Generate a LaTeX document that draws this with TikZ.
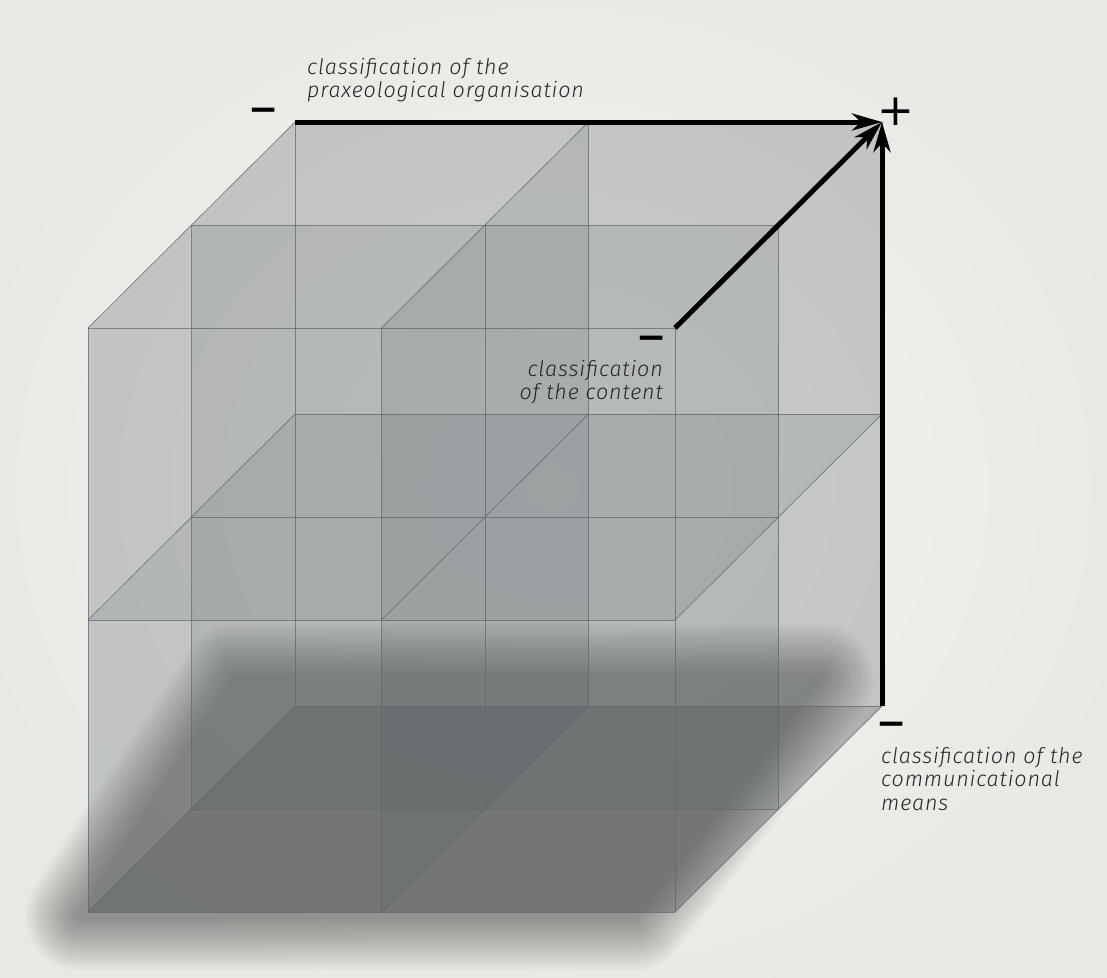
\documentclass[tikz,border=0pt]{standalone}
\usepackage{fontspec}
\setmainfont{Fira Sans}
\IfFontExistsTF{Fira Sans Light Italic}
  {\newfontfamily\lblfont{Fira Sans Light Italic}[LetterSpace=4]}
  {\newfontfamily\lblfont{Fira Sans Italic}[LetterSpace=4]}
\newfontfamily\symfont{DejaVu Sans}
\usetikzlibrary{arrows.meta}
\definecolor{bgin}{HTML}{F4F4F0}
\definecolor{bgout}{HTML}{E8E8E4}
\definecolor{panecol}{HTML}{535D62}
\definecolor{linecol}{HTML}{5E6669}
\definecolor{txtcol}{HTML}{262626}
\tikzset{
  pane/.style={fill=panecol, fill opacity=0.14, draw=none},
  gridline/.style={draw=linecol, line width=0.8pt, draw opacity=0.7},
  axis/.style={line width=5pt, black, -{Stealth[length=30pt,width=17pt,inset=9pt]}},
  lbl/.style={inner sep=0pt, text=txtcol, font=\lblfont\fontsize{21.5}{23.5}\selectfont},
  sign/.style={inner sep=0pt, text=black}
}
\begin{document}
\begin{tikzpicture}[x=1pt,y=-1pt]
\useasboundingbox (0,0) rectangle (1107,977);
% background
\shade[inner color=bgin, outer color=bgout] (-60,-60) rectangle (1167,1037);
% lattice points
\foreach \i in {0,1,2}{\foreach \j in {0,1,2}{\foreach \k in {0,1,2}{
  \coordinate (p-\i-\j-\k) at ({88+293.5*\i+103.5*\k},{912-292*\j-103*\k});
}}}
% soft shadow under the cube
\coordinate (s0) at ([shift={(-8,4)}]p-0-0-0);
\coordinate (s1) at ([shift={(-40,4)}]p-2-0-0);
\coordinate (s2) at ([shift={(-62,-28)}]p-2-0-2);
\coordinate (s3) at ([shift={(-60,-28)}]p-0-0-2);
\foreach \r in {54,51,...,3}{
  \begin{scope}[transparency group, opacity=0.024]
    \filldraw[black, line width=2*\r pt, line join=round] (s0)--(s1)--(s2)--(s3)--cycle;
  \end{scope}
}
\fill[black, opacity=0.12] (p-0-0-0)--(p-2-0-0)--(p-2-0-2)--(p-0-0-2)--cycle;
% translucent planes
\foreach \k in {0,1,2}{\path[pane] (p-0-0-\k)--(p-2-0-\k)--(p-2-2-\k)--(p-0-2-\k)--cycle;}
\foreach \j in {0,1,2}{\path[pane] (p-0-\j-0)--(p-2-\j-0)--(p-2-\j-2)--(p-0-\j-2)--cycle;}
\foreach \i in {0,1,2}{\path[pane] (p-\i-0-0)--(p-\i-0-2)--(p-\i-2-2)--(p-\i-2-0)--cycle;}
% grid lines
\foreach \a in {0,1,2}{\foreach \b in {0,1,2}{
  \draw[gridline] (p-0-\a-\b)--(p-2-\a-\b);
  \draw[gridline] (p-\a-0-\b)--(p-\a-2-\b);
  \draw[gridline] (p-\a-\b-0)--(p-\a-\b-2);
}}
% axes
\draw[axis] (p-0-2-2) -- (p-2-2-2);
\draw[axis] (p-2-2-0) -- (p-2-2-2);
\draw[axis] (p-2-0-2) -- (p-2-2-2);
% signs
\node[sign, font=\symfont\bfseries\fontsize{36}{36}\selectfont] (m1) at (264,115) {−};
\node[sign, font=\symfont\fontsize{44}{44}\selectfont] (pl) at (896,112) {+};
\node[sign, font=\symfont\bfseries\fontsize{36}{36}\selectfont] (m2) at (652,343) {−};
\node[sign, font=\symfont\bfseries\fontsize{36}{36}\selectfont] (m3) at (892,729) {−};
% labels
\node[lbl, anchor=north west, align=left] (t1) at (307,58) {classification of the\\praxeological organisation};
\node[lbl, anchor=north east, align=right] (t2) at (663,360) {classification\\of the content};
\node[lbl, anchor=north west, align=left] (t3) at (881,747) {classification of the\\communicational\\means};
\end{tikzpicture}
\end{document}
